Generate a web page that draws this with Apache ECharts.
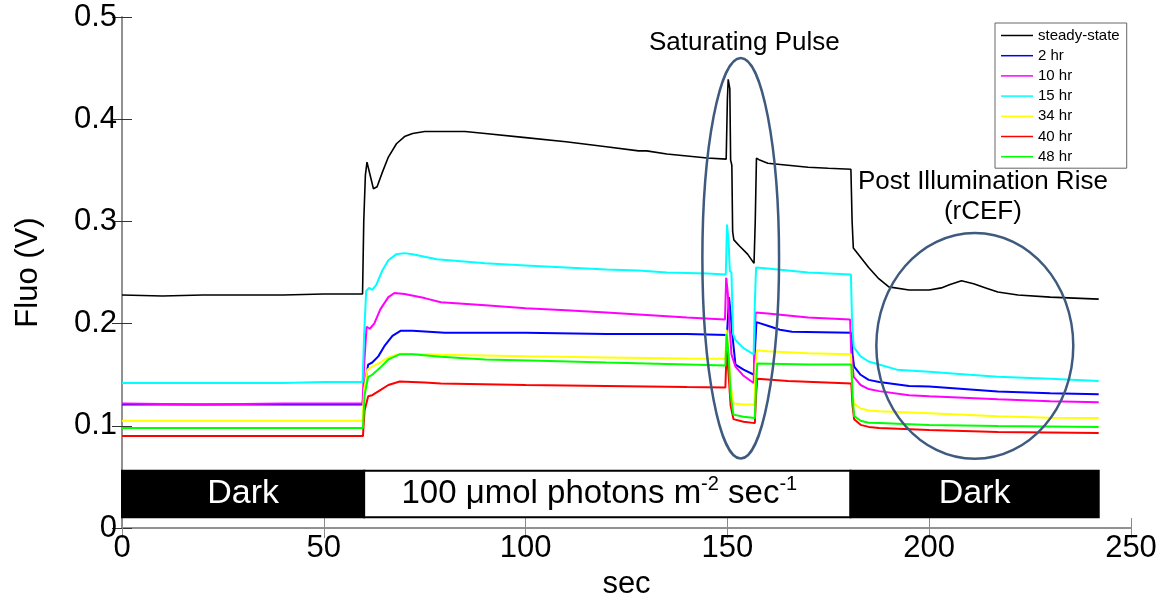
<!DOCTYPE html>
<html>
<head>
<meta charset="utf-8">
<script src="https://cdn.jsdelivr.net/npm/echarts@6/dist/echarts.min.js"></script>
<style>
  html, body { margin: 0; padding: 0; background: #fff; }
  #main { width: 1166px; height: 605px; }
</style>
</head>
<body>
<div id="main"></div>
<script>
// fluorescence traces, [sec, V]
var steadyState = [[0,0.228],[10,0.227],[20,0.228],[30,0.228],[40,0.228],[50,0.229],[59.6,0.229],[59.9,0.30],[60.3,0.345],[60.7,0.358],[61.5,0.345],[62.3,0.332],[63.2,0.334],[64.5,0.348],[66,0.363],[68,0.376],[70,0.383],[72,0.386],[75,0.388],[80,0.388],[85,0.388],[90,0.386],[100,0.382],[110,0.378],[120,0.373],[128,0.369],[130,0.369],[135,0.366],[140,0.364],[145,0.362],[149.7,0.361],[150,0.42],[150.2,0.439],[150.6,0.43],[150.8,0.36],[151.1,0.355],[151.3,0.29],[151.6,0.282],[153,0.276],[155,0.268],[156.6,0.259],[156.9,0.30],[157.2,0.362],[158,0.360],[160,0.357],[165,0.355],[170,0.353],[175,0.352],[180.6,0.351],[180.9,0.30],[181.2,0.274],[183,0.265],[185,0.255],[187.5,0.244],[190,0.236],[195,0.233],[200,0.233],[203,0.235],[205,0.238],[208,0.242],[211,0.239],[214,0.235],[217,0.231],[222,0.228],[230,0.226],[236,0.225],[242,0.224]];
var hr2 = [[0,0.121],[20,0.121],[40,0.121],[59.6,0.121],[60.1,0.14],[61,0.16],[62,0.162],[63.5,0.168],[65,0.178],[67,0.188],[69,0.193],[72,0.193],[80,0.191],[100,0.191],[120,0.190],[140,0.190],[149.9,0.189],[150.4,0.226],[150.8,0.21],[151.2,0.19],[152,0.16],[154,0.155],[156.6,0.150],[156.9,0.18],[157.2,0.2015],[160,0.198],[163,0.194],[166,0.192],[180.7,0.191],[181,0.17],[181.4,0.158],[183,0.15],[185,0.145],[187.6,0.143],[195,0.139],[200,0.1386],[217,0.1337],[230,0.132],[242,0.131]];
var hr10 = [[0,0.122],[20,0.121],[40,0.122],[59.6,0.122],[60.0,0.16],[60.6,0.197],[61.4,0.195],[62.5,0.2],[64,0.214],[66,0.226],[67.5,0.23],[70,0.229],[75,0.225],[79,0.221],[90,0.218],[100,0.215],[110,0.213],[120,0.211],[128,0.209],[140,0.206],[149.4,0.204],[149.7,0.245],[150.1,0.23],[150.5,0.2],[151,0.17],[152,0.158],[154,0.149],[156.5,0.142],[156.7,0.18],[157,0.211],[160,0.21],[170,0.206],[180.4,0.204],[180.7,0.17],[181.3,0.148],[183,0.14],[185,0.136],[187.6,0.134],[195,0.130],[200,0.129],[217,0.126],[230,0.124],[242,0.123]];
var hr15 = [[0,0.142],[20,0.142],[40,0.142],[50,0.143],[59.6,0.143],[60.0,0.19],[60.5,0.232],[61.2,0.235],[62,0.233],[63,0.238],[64.5,0.252],[66,0.262],[68,0.268],[70,0.269],[72,0.268],[78,0.263],[90,0.259],[100,0.257],[110,0.255],[120,0.253],[128,0.252],[135,0.250],[145,0.249],[149.6,0.248],[149.9,0.297],[150.3,0.28],[150.6,0.252],[151,0.25],[151.4,0.19],[152,0.184],[154,0.176],[156.5,0.170],[156.8,0.22],[157.1,0.255],[160,0.254],[165,0.252],[170,0.250],[180.6,0.248],[180.9,0.2],[181.3,0.177],[183,0.168],[185,0.163],[187.6,0.160],[192,0.155],[200,0.153],[210,0.150],[217,0.148],[230,0.146],[242,0.144]];
var hr34 = [[0,0.105],[20,0.105],[40,0.105],[59.6,0.105],[60.0,0.135],[60.8,0.155],[62,0.158],[64,0.162],[66,0.167],[68.8,0.1705],[75,0.170],[79,0.1696],[100,0.168],[120,0.167],[140,0.166],[149.5,0.1657],[149.8,0.194],[150.3,0.17],[150.8,0.14],[151.5,0.122],[154,0.121],[156.7,0.121],[157,0.16],[157.3,0.174],[160,0.173],[170,0.171],[180.6,0.170],[180.9,0.14],[181.3,0.122],[183,0.117],[185,0.115],[187.6,0.1143],[200,0.1124],[217,0.1095],[230,0.108],[242,0.1076]];
var hr40 = [[0,0.090],[20,0.090],[40,0.090],[59.7,0.090],[60.1,0.115],[61,0.129],[62,0.130],[64,0.135],[66,0.140],[68.8,0.1434],[75,0.1425],[79,0.1415],[100,0.140],[120,0.139],[140,0.138],[149.5,0.1376],[149.8,0.174],[150.3,0.15],[150.8,0.12],[151.5,0.1066],[154,0.104],[156.8,0.1027],[157.1,0.13],[157.4,0.146],[165,0.144],[180.7,0.1415],[181,0.12],[181.4,0.1066],[183,0.101],[185,0.099],[187.6,0.0979],[200,0.0959],[217,0.094],[242,0.093]];
var hr48 = [[0,0.098],[20,0.098],[40,0.098],[59.7,0.098],[60.1,0.13],[61,0.148],[62,0.150],[64,0.157],[66,0.165],[68.8,0.170],[72,0.170],[79,0.1676],[90,0.165],[103.5,0.1638],[120,0.162],[140,0.16],[149.5,0.159],[149.8,0.19],[150.3,0.17],[150.8,0.13],[151.5,0.111],[154,0.109],[156.8,0.1076],[157.1,0.14],[157.4,0.161],[170,0.160],[180.7,0.16],[181,0.13],[181.4,0.1095],[183,0.105],[185,0.103],[187.6,0.1027],[200,0.1008],[217,0.0998],[242,0.0988]];

var seriesNames = ['steady-state', '2 hr', '10 hr', '15 hr', '34 hr', '40 hr', '48 hr'];
var seriesData = [steadyState, hr2, hr10, hr15, hr34, hr40, hr48];
var seriesColors = ['#000000', '#0000ff', '#ff00ff', '#00ffff', '#ffff00', '#ff0000', '#00ff00'];

// light regime bar: [start, end] in sec
var darkBefore = [0, 60];
var lightOn = [60, 180.5];
var darkAfter = [180.5, 242];
var barBottom = 0.0107, barTop = 0.0562;

var font = 'Liberation Sans, Arial, sans-serif';
var chart = echarts.init(document.getElementById('main'));

var series = seriesNames.map(function(name, i) {
    return {
        name: name,
        type: 'line',
        data: seriesData[i],
        symbol: 'none',
        color: seriesColors[i],
        lineStyle: { width: i === 0 ? 1.6 : 2, color: seriesColors[i] },
        z: 3 + i
    };
});

function barArea(range, fill, text, textColor, shift) {
    return [
        { xAxis: range[0], yAxis: barBottom, itemStyle: { color: fill, borderColor: '#000', borderWidth: 2, opacity: 1 },
          label: { show: true, position: 'inside', offset: [shift || 0, 0], formatter: text, color: textColor, fontSize: 34, fontFamily: font,
                   rich: { base: { fontSize: 33, fontFamily: font, color: textColor, lineHeight: 38 },
                           sup: { fontSize: 20, fontFamily: font, color: textColor, verticalAlign: 'top', lineHeight: 20 } } } },
        { xAxis: range[1], yAxis: barTop }
    ];
}

// light bar drawn with a mark area on a hidden helper series
series.push({
    type: 'line',
    data: [],
    silent: true,
    markArea: {
        silent: true,
        data: [
            barArea(darkBefore, '#000', 'Dark', '#fff'),
            barArea(lightOn, '#fff', '{base|100 μmol photons m}{sup|-2}{base| sec}{sup|-1}', '#000', -8),
            barArea(darkAfter, '#000', 'Dark', '#fff')
        ]
    }
});

var axisGrey = '#8a8a8a';

option = {
    animation: false,
    backgroundColor: '#fff',
    textStyle: { fontFamily: font },
    grid: { left: 122, right: 35, top: 17, bottom: 72 },
    legend: {
        data: seriesNames,
        orient: 'vertical',
        left: 995,
        top: 23,
        padding: [5, 7, 4, 6],
        icon: 'rect',
        itemWidth: 32,
        itemHeight: 1.5,
        itemGap: 5.2,
        backgroundColor: '#fff',
        borderColor: '#666',
        borderWidth: 1,
        textStyle: { fontSize: 15, lineHeight: 14, fontFamily: font, color: '#000' }
    },
    xAxis: [{
        type: 'value',
        min: 0, max: 250, interval: 50,
        name: 'sec',
        nameLocation: 'middle',
        nameGap: 35,
        nameTextStyle: { fontSize: 31, color: '#000', fontFamily: font },
        axisLine: { lineStyle: { color: axisGrey, width: 1.5 } },
        axisTick: { inside: true, length: 10, lineStyle: { color: axisGrey } },
        axisLabel: { fontSize: 31, color: '#000', margin: 5, fontFamily: font },
        splitLine: { show: false }
    }, {
        type: 'value',
        position: 'top',
        min: 0, max: 250, interval: 50,
        axisLine: { show: true, lineStyle: { color: axisGrey, width: 1.5 } },
        axisTick: { inside: true, length: 10, lineStyle: { color: axisGrey } },
        axisLabel: { show: false },
        splitLine: { show: false }
    }],
    yAxis: [{
        type: 'value',
        min: 0, max: 0.5, interval: 0.1,
        name: 'Fluo (V)',
        nameLocation: 'middle',
        nameGap: 78,
        nameTextStyle: { fontSize: 31, color: '#000', fontFamily: font },
        axisLine: { show: true, lineStyle: { color: axisGrey, width: 1.5 } },
        axisTick: { show: true, inside: true, length: 10, lineStyle: { color: '#333' } },
        axisLabel: { fontSize: 31, color: '#000', margin: 5, fontFamily: font },
        splitLine: { show: false }
    }, {
        type: 'value',
        position: 'right',
        min: 0, max: 0.5, interval: 0.1,
        axisLine: { show: true, lineStyle: { color: axisGrey, width: 1.5 } },
        axisTick: { show: true, inside: true, length: 10, lineStyle: { color: '#333' } },
        axisLabel: { show: false },
        splitLine: { show: false }
    }],
    series: series
};

chart.setOption(option);

// annotations, placed in data units
function px(t, v) { return chart.convertToPixel({ xAxisIndex: 0, yAxisIndex: 0 }, [t, v]); }

function ellipse(t, v, dt, dv) {
    var c = px(t, v), e = px(t + dt, v + dv);
    return {
        type: 'ellipse',
        shape: { cx: c[0], cy: c[1], rx: Math.abs(e[0] - c[0]), ry: Math.abs(c[1] - e[1]) },
        style: { fill: null, stroke: '#3e5a7e', lineWidth: 2.5 },
        z: 50
    };
}

function note(t, v, text) {
    var p = px(t, v);
    return {
        type: 'text',
        x: p[0], y: p[1],
        style: { text: text, fontSize: 26, fontFamily: font, fill: '#000', align: 'center', verticalAlign: 'middle' },
        z: 50
    };
}

chart.setOption({
    graphic: [
        ellipse(153.3, 0.264, 9.5, 0.196),
        ellipse(211.3, 0.1783, 24.4, 0.1105),
        note(154.2, 0.475, 'Saturating Pulse'),
        note(213.3, 0.339, 'Post Illumination Rise'),
        note(213.3, 0.309, '(rCEF)')
    ]
});
</script>
</body>
</html>
